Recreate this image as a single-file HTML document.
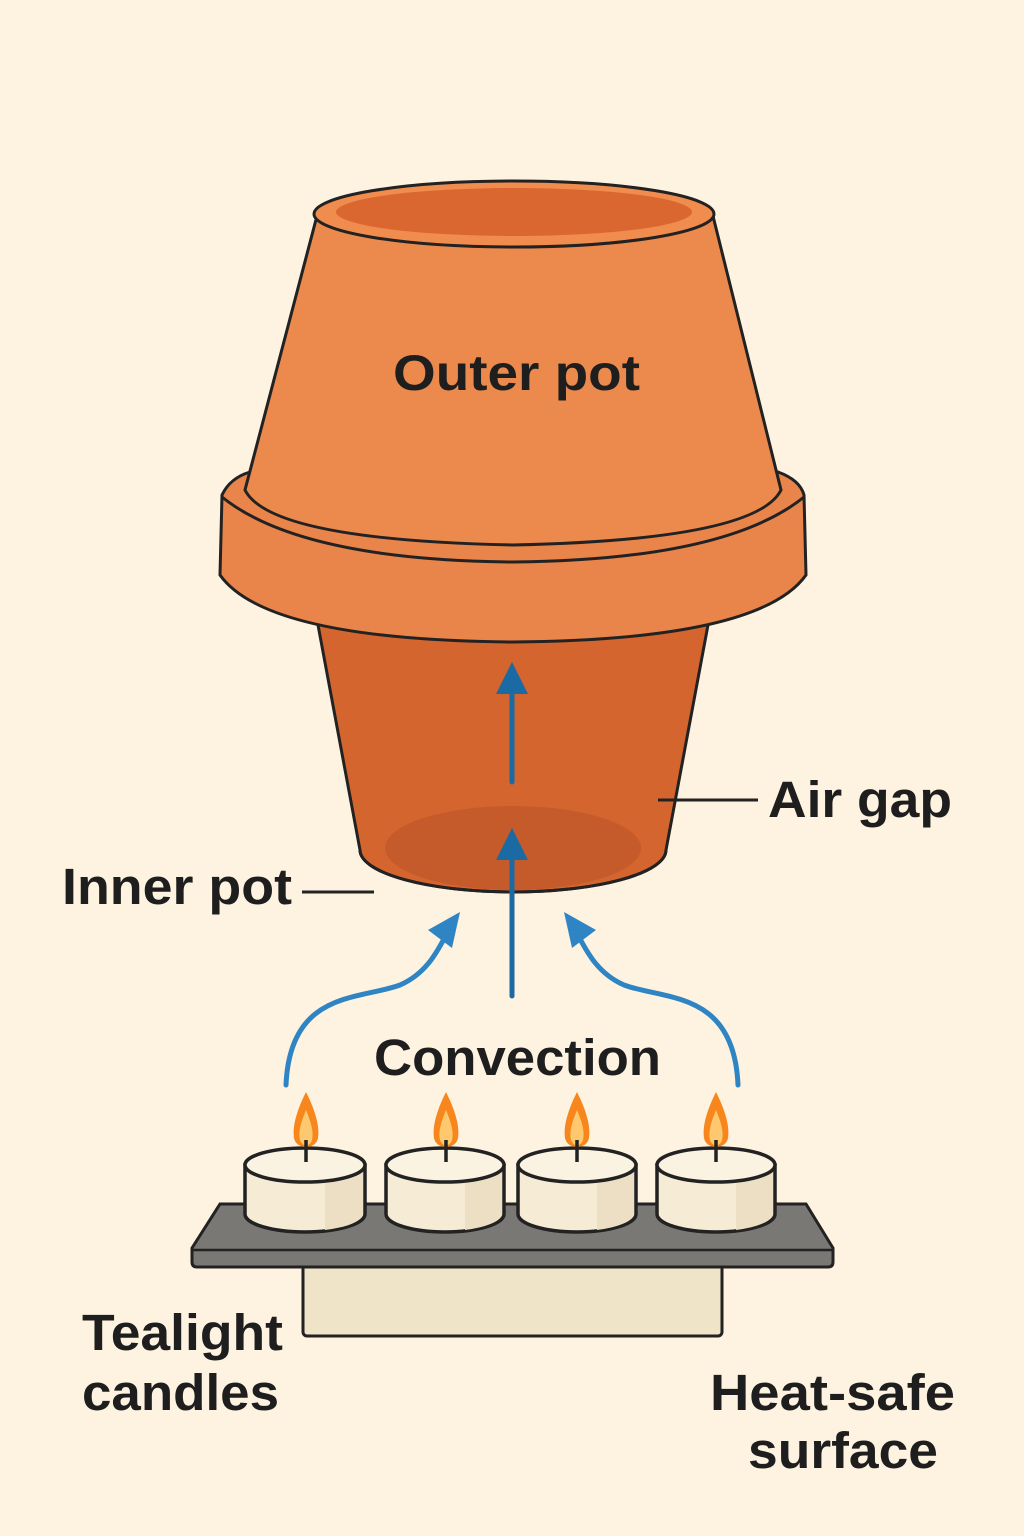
<!DOCTYPE html>
<html><head><style>
html,body{margin:0;padding:0;background:#fdf3e0}
svg{display:block}
text{font-family:"Liberation Sans",sans-serif;fill:#1e1e1e;font-weight:bold}
</style></head><body>
<svg width="1024" height="1536" viewBox="0 0 1024 1536" xmlns="http://www.w3.org/2000/svg">
<rect width="1024" height="1536" fill="#fdf3e0"/>
<!-- inner pot -->
<path d="M318,625 L360,850 A153,42 0 0 0 666,850 L708,625 Z" fill="#d4652f" stroke="#222" stroke-width="3"/>
<ellipse cx="513" cy="848" rx="128" ry="42" fill="#c55b2a"/>
<path d="M360,850 A153,42 0 0 0 666,850" fill="none" stroke="#222" stroke-width="3"/>
<!-- flange -->
<path d="M222,495 Q230,478 250,472 L778,472 Q800,480 804,495 L806,575 Q760,640 513,642 Q266,640 220,575 Z" fill="#e9844a" stroke="#222" stroke-width="3"/>
<path d="M222,497 Q300,560 513,562 Q726,560 804,497" fill="none" stroke="#222" stroke-width="3"/>
<!-- upper body -->
<path d="M318,212 L245,490 Q270,540 513,545 Q756,540 781,490 L712,212 Z" fill="#ec8a4e" stroke="#222" stroke-width="3"/>
<ellipse cx="514" cy="214" rx="200" ry="33" fill="#f08c4d" stroke="#222" stroke-width="3"/>
<ellipse cx="514" cy="212" rx="178" ry="24" fill="#d9672f"/>
<text x="393" y="390" font-size="50" textLength="247" lengthAdjust="spacingAndGlyphs">Outer pot</text>
<!-- arrows -->
<g stroke="#1c6aa3" stroke-width="5" fill="none" stroke-linecap="round">
<line x1="512" y1="782" x2="512" y2="690"/>
<line x1="512" y1="996" x2="512" y2="855"/>
<path d="M286,1085 C290,990 360,1000 400,985 C430,972 440,945 450,928" stroke="#2f84c4"/>
<path d="M738,1085 C734,990 664,1000 624,985 C594,972 584,945 574,928" stroke="#2f84c4"/>
</g>
<path d="M512,662 L528,694 L496,694 Z" fill="#1c6aa3"/>
<path d="M512,828 L528,860 L496,860 Z" fill="#1c6aa3"/>
<path d="M460,912 L452,948 L428,930 Z" fill="#2f84c4"/>
<path d="M564,912 L572,948 L596,930 Z" fill="#2f84c4"/>
<!-- labels -->
<line x1="658" y1="800" x2="758" y2="800" stroke="#222" stroke-width="3"/>
<text x="768" y="817" font-size="51" textLength="184" lengthAdjust="spacingAndGlyphs">Air gap</text>
<line x1="302" y1="892" x2="374" y2="892" stroke="#222" stroke-width="3"/>
<text x="62" y="904" font-size="51" textLength="230" lengthAdjust="spacingAndGlyphs">Inner pot</text>
<text x="374" y="1075" font-size="51" textLength="287" lengthAdjust="spacingAndGlyphs">Convection</text>
<text x="82" y="1350" font-size="51" textLength="201" lengthAdjust="spacingAndGlyphs">Tealight</text>
<text x="82" y="1410" font-size="51" textLength="197" lengthAdjust="spacingAndGlyphs">candles</text>
<text x="710" y="1410" font-size="51" textLength="245" lengthAdjust="spacingAndGlyphs">Heat-safe</text>
<text x="748" y="1468" font-size="51" textLength="190" lengthAdjust="spacingAndGlyphs">surface</text>
<!-- stand -->
<rect x="303" y="1255" width="419" height="81" rx="4" fill="#efe3c8" stroke="#222" stroke-width="3"/>
<path d="M220,1204 L806,1204 L833,1248 L833,1262 Q833,1267 828,1267 L197,1267 Q192,1267 192,1262 L192,1248 Z" fill="#7a7874" stroke="#222" stroke-width="3"/>
<line x1="192" y1="1250" x2="833" y2="1250" stroke="#222" stroke-width="2.5"/>
<!-- candles -->
<g stroke="#222" stroke-width="3.5">
<g transform="translate(305,0)">
<path d="M-60,1165 L-60,1214 A60,18 0 0 0 60,1214 L60,1165 Z" fill="#f6ecd6"/>
<path d="M20,1180 L58,1170 L58,1214 A60,18 0 0 1 20,1230 Z" fill="#ecdfc3" stroke="none"/>
<ellipse cx="0" cy="1165" rx="60" ry="17" fill="#fbf3e2"/>
</g>
<g transform="translate(445,0)">
<path d="M-59,1165 L-59,1214 A59,18 0 0 0 59,1214 L59,1165 Z" fill="#f6ecd6"/>
<path d="M20,1180 L57,1170 L57,1214 A59,18 0 0 1 20,1230 Z" fill="#ecdfc3" stroke="none"/>
<ellipse cx="0" cy="1165" rx="59" ry="17" fill="#fbf3e2"/>
</g>
<g transform="translate(577,0)">
<path d="M-59,1165 L-59,1214 A59,18 0 0 0 59,1214 L59,1165 Z" fill="#f6ecd6"/>
<path d="M20,1180 L57,1170 L57,1214 A59,18 0 0 1 20,1230 Z" fill="#ecdfc3" stroke="none"/>
<ellipse cx="0" cy="1165" rx="59" ry="17" fill="#fbf3e2"/>
</g>
<g transform="translate(716,0)">
<path d="M-59,1165 L-59,1214 A59,18 0 0 0 59,1214 L59,1165 Z" fill="#f6ecd6"/>
<path d="M20,1180 L57,1170 L57,1214 A59,18 0 0 1 20,1230 Z" fill="#ecdfc3" stroke="none"/>
<ellipse cx="0" cy="1165" rx="59" ry="17" fill="#fbf3e2"/>
</g>
</g>
<g>
<g transform="translate(306,0)"><path d="M0,1092 C8,1108 14,1125 12,1138 C10,1150 -10,1150 -12,1138 C-14,1125 -8,1108 0,1092 Z" fill="#f7861c"/><path d="M0,1110 C5,1122 8,1132 6,1140 C4,1147 -4,1147 -6,1140 C-8,1132 -5,1122 0,1110 Z" fill="#fdc86e"/><line x1="0" y1="1140" x2="0" y2="1162" stroke="#222" stroke-width="3.5"/></g>
<g transform="translate(446,0)"><path d="M0,1092 C8,1108 14,1125 12,1138 C10,1150 -10,1150 -12,1138 C-14,1125 -8,1108 0,1092 Z" fill="#f7861c"/><path d="M0,1110 C5,1122 8,1132 6,1140 C4,1147 -4,1147 -6,1140 C-8,1132 -5,1122 0,1110 Z" fill="#fdc86e"/><line x1="0" y1="1140" x2="0" y2="1162" stroke="#222" stroke-width="3.5"/></g>
<g transform="translate(577,0)"><path d="M0,1092 C8,1108 14,1125 12,1138 C10,1150 -10,1150 -12,1138 C-14,1125 -8,1108 0,1092 Z" fill="#f7861c"/><path d="M0,1110 C5,1122 8,1132 6,1140 C4,1147 -4,1147 -6,1140 C-8,1132 -5,1122 0,1110 Z" fill="#fdc86e"/><line x1="0" y1="1140" x2="0" y2="1162" stroke="#222" stroke-width="3.5"/></g>
<g transform="translate(716,0)"><path d="M0,1092 C8,1108 14,1125 12,1138 C10,1150 -10,1150 -12,1138 C-14,1125 -8,1108 0,1092 Z" fill="#f7861c"/><path d="M0,1110 C5,1122 8,1132 6,1140 C4,1147 -4,1147 -6,1140 C-8,1132 -5,1122 0,1110 Z" fill="#fdc86e"/><line x1="0" y1="1140" x2="0" y2="1162" stroke="#222" stroke-width="3.5"/></g>
</g>
</svg>
</body></html>
